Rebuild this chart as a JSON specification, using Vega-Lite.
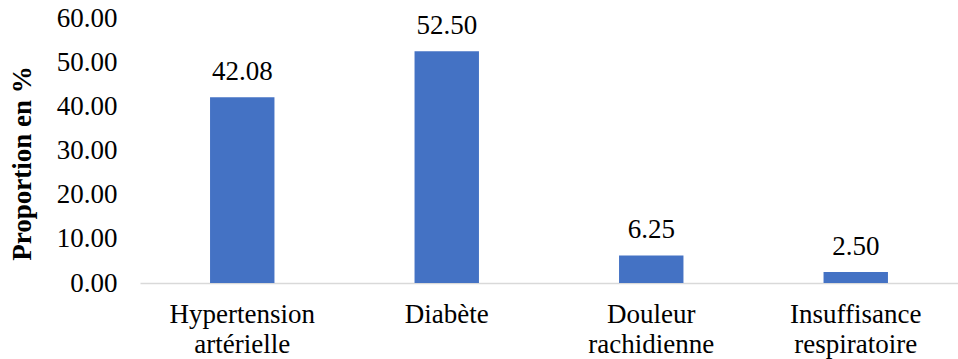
{
  "$schema": "https://vega.github.io/schema/vega-lite/v6.json",
  "width": 818,
  "height": 265,
  "autosize": {"type": "none"},
  "padding": {"left": 140, "top": 18, "right": 0, "bottom": 76},
  "background": "white",
  "config": {"view": {"stroke": null}, "font": "Times New Roman, Liberation Serif, serif"},
  "data": {"values": [
    {"cat": "Hypertension artérielle", "val": 42.08},
    {"cat": "Diabète", "val": 52.50},
    {"cat": "Douleur rachidienne", "val": 6.25},
    {"cat": "Insuffisance respiratoire", "val": 2.50}
  ]},
  "encoding": {
    "x": {"field": "cat", "type": "nominal", "sort": null,
      "scale": {"paddingInner": 0.685, "paddingOuter": 0.3425},
      "axis": {"title": null, "labelAngle": 0, "labelFont": "Times New Roman, Liberation Serif, serif", "labelFontSize": 27, "labelColor": "black",
        "labelExpr": "split(datum.label, ' ')", "labelLineHeight": 30, "labelPadding": 18,
        "ticks": false, "domainColor": "#d9d9d9", "domainWidth": 1.5}},
    "y": {"field": "val", "type": "quantitative",
      "scale": {"domain": [0, 60]},
      "axis": {"title": "Proportion en %", "titleFont": "Times New Roman, Liberation Serif, serif", "titleFontSize": 27, "titleFontWeight": "bold", "titleColor": "black", "titlePadding": 20, "titleY": 145,
        "values": [0, 10, 20, 30, 40, 50, 60], "format": ".2f",
        "labelFont": "Times New Roman, Liberation Serif, serif", "labelFontSize": 27, "labelColor": "black", "labelPadding": 23,
        "grid": false, "domain": false, "ticks": false}}
  },
  "layer": [
    {"mark": {"type": "bar", "color": "#4472C4"}},
    {"mark": {"type": "text", "baseline": "bottom", "dy": -11, "fontSize": 27, "font": "Times New Roman, Liberation Serif, serif", "color": "black"},
     "encoding": {"text": {"field": "val", "type": "quantitative", "format": ".2f"}}}
  ]
}
